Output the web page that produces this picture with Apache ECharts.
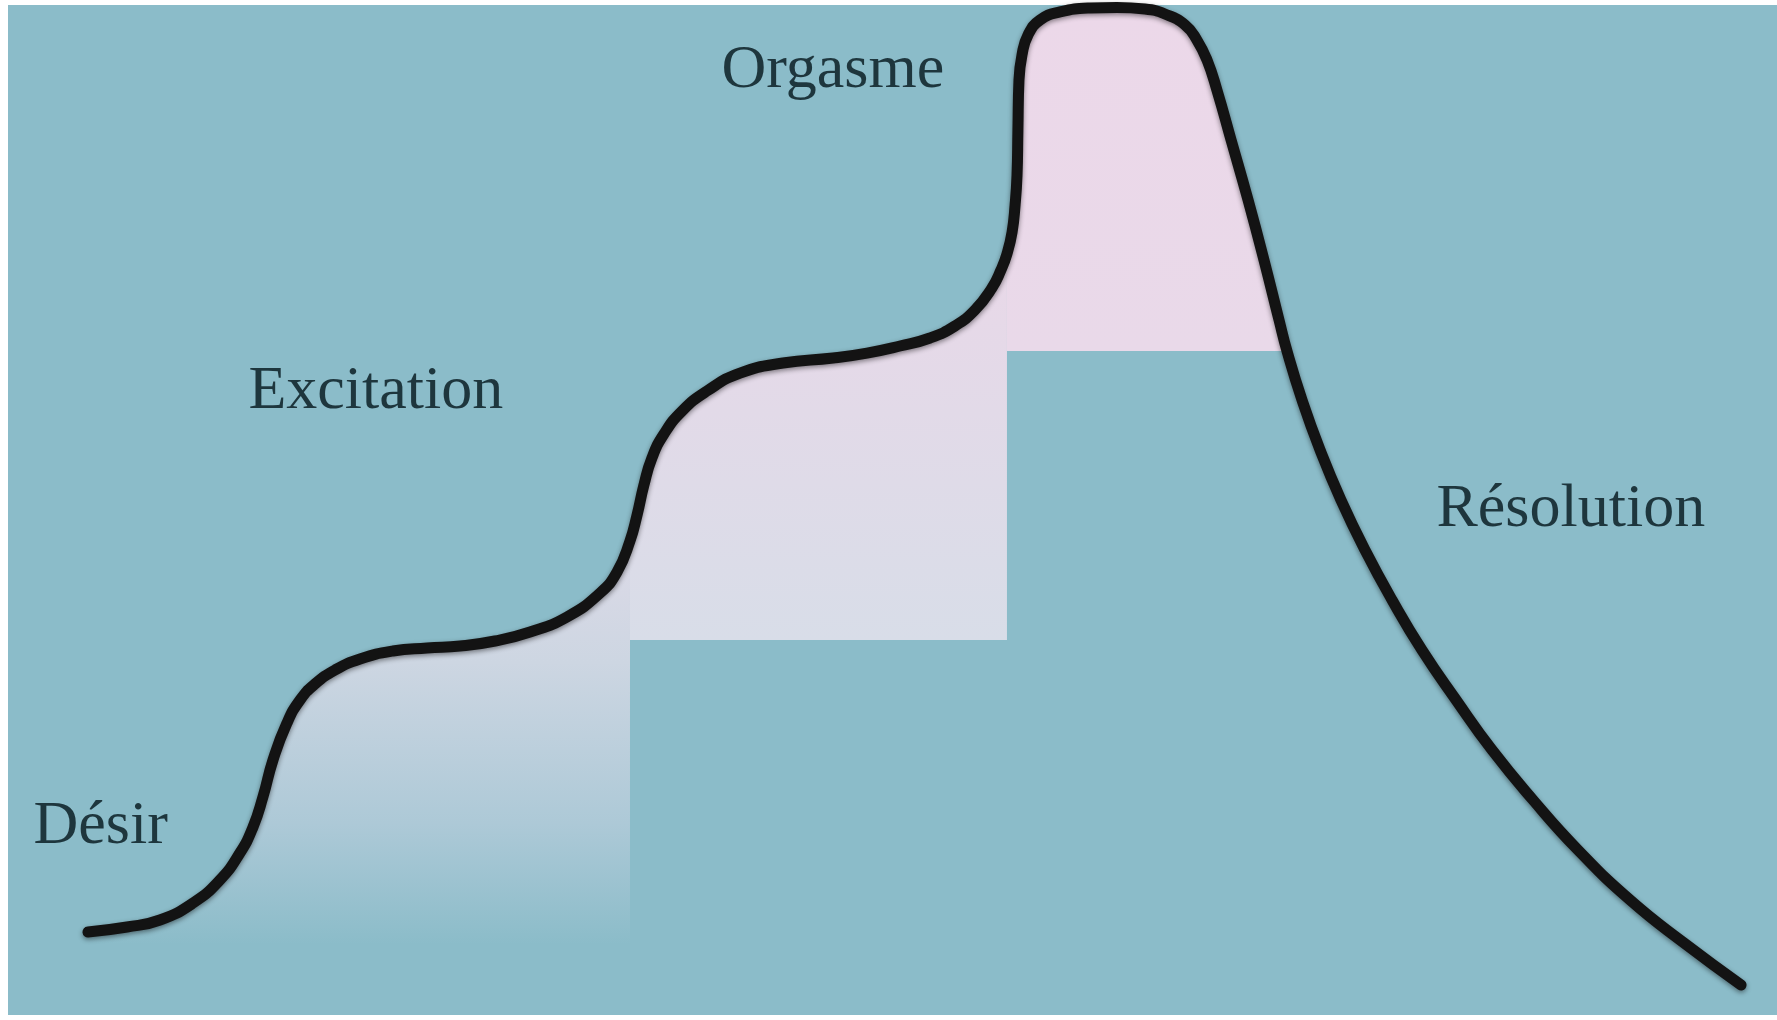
<!DOCTYPE html>
<html>
<head>
<meta charset="utf-8">
<title>Cycle de la réponse sexuelle</title>
<script src="https://cdn.jsdelivr.net/npm/echarts@6.0.0/dist/echarts.min.js"></script>
<style>
  html, body { margin: 0; padding: 0; background: #ffffff; }
  #cycleChart { width: 1777px; height: 1020px; }
</style>
</head>
<body>
<div id="cycleChart"></div>
<script>
// courbe : temps (0-100) / intensité (0-100)
var timeX = [4.52, 6.73, 8.59, 10.46, 11.98, 13.11, 13.85, 14.41, 14.98, 15.77, 16.51, 17.35,
  18.49, 19.90, 21.76, 23.69, 25.55, 27.53, 29.51, 31.60, 33.47, 34.43, 35.16, 35.56, 35.95,
  36.40, 37.08, 38.10, 39.51, 41.38, 43.81, 46.64, 48.56, 50.42, 52.12, 53.53, 54.66, 55.62,
  56.13, 56.47, 56.76, 56.93, 57.04, 57.09, 57.15, 57.32, 57.66, 58.34, 59.47, 61.17, 62.69,
  64.27, 65.40, 66.54, 67.21, 67.78, 68.34, 69.14, 70.10, 71.0, 71.85, 72.30, 73.15, 74.17,
  75.35, 76.71, 78.24, 79.93, 81.86, 83.89, 86.21, 88.75, 91.69, 94.74, 97.97];
var intensityY = [8.22, 8.71, 9.41, 11.09, 13.37, 16.04, 18.61, 21.58, 25.25, 28.91, 31.19, 32.77,
  34.16, 35.25, 36.04, 36.34, 36.53, 37.03, 37.92, 39.41, 41.78, 43.86, 46.93, 49.5, 52.48,
  55.15, 57.52, 59.8, 61.78, 63.56, 64.55, 65.05, 65.54, 66.24, 67.03, 68.22, 69.8, 71.98,
  73.76, 75.35, 77.52, 80.2, 83.17, 87.62, 92.57, 95.05, 97.03, 98.51, 99.31, 99.7, 99.75,
  99.6, 99.11, 98.02, 96.53, 94.55, 91.58, 86.63, 80.69, 74.75, 68.81, 65.74, 60.89, 55.94,
  50.99, 46.04, 41.09, 36.14, 31.19, 26.24, 21.29, 16.34, 11.39, 7.13, 2.97];

// paliers (marches) sous la courbe
var stepStart = [0, 35.16, 56.47];
var stepEnd = [35.16, 56.47, 72.30];
var stepBase = [7, 37.13, 65.74];

// étiquettes des phases
var phaseNames = ['Désir', 'Excitation', 'Orgasme', 'Résolution'];
var phaseX = [1.47, 13.62, 40.36, 80.78];
var phaseY = [18.55, 61.68, 93.46, 49.95];

var stepColors = [
  [[0, '#dddae7'], [0.3, '#cdd6e2'], [0.7, '#adc9d7'], [1, '#8bbcc9']],
  [[0, '#e9d8e8'], [1, '#d8dde8']],
  [[0, '#ecd8e9'], [1, '#e9d9e9']]
];

cycleChart("cycleChart");

function cycleChart(id) {
  var chart = echarts.init(document.getElementById(id));
  var curve = timeX.map(function (x, i) { return [x, intensityY[i]]; });

  var series = [];
  for (var s = 0; s < stepStart.length; s++) {
    var seg = curve.filter(function (p) { return p[0] >= stepStart[s] && p[0] <= stepEnd[s]; });
    series.push({
      type: 'line',
      data: seg,
      smooth: 0.5,
      symbol: 'none',
      silent: true,
      z: 1,
      lineStyle: { width: 0 },
      areaStyle: {
        origin: stepBase[s],
        opacity: 1,
        color: {
          type: 'linear', x: 0, y: 0, x2: 0, y2: 1,
          colorStops: stepColors[s].map(function (c) { return { offset: c[0], color: c[1] }; })
        }
      }
    });
  }

  series.push({
    type: 'line',
    data: curve,
    smooth: 0.5,
    symbol: 'none',
    silent: true,
    z: 5,
    lineStyle: {
      width: 11,
      color: '#131313',
      cap: 'round',
      join: 'round',
      shadowBlur: 5,
      shadowOffsetY: 2,
      shadowColor: 'rgba(0,0,0,0.45)'
    }
  });

  series.push({
    type: 'scatter',
    symbolSize: 1,
    silent: true,
    z: 6,
    itemStyle: { color: 'rgba(0,0,0,0)' },
    data: phaseNames.map(function (n, i) { return { name: n, value: [phaseX[i], phaseY[i]] }; }),
    label: {
      show: true,
      position: [0, 0],
      align: 'left',
      verticalAlign: 'middle',
      formatter: '{b}',
      fontFamily: '"Liberation Serif", "DejaVu Serif", serif',
      fontSize: 62,
      color: '#03141a'
    }
  });

  var option = {
    backgroundColor: '#ffffff',
    animation: false,
    grid: {
      left: 8, right: 0, top: 5, bottom: 5,
      show: true,
      backgroundColor: '#8bbcc9',
      borderWidth: 0
    },
    xAxis: { type: 'value', min: 0, max: 100, show: false },
    yAxis: { type: 'value', min: 0, max: 100, show: false },
    series: series
  };
  chart.setOption(option);
}
</script>
</body>
</html>
